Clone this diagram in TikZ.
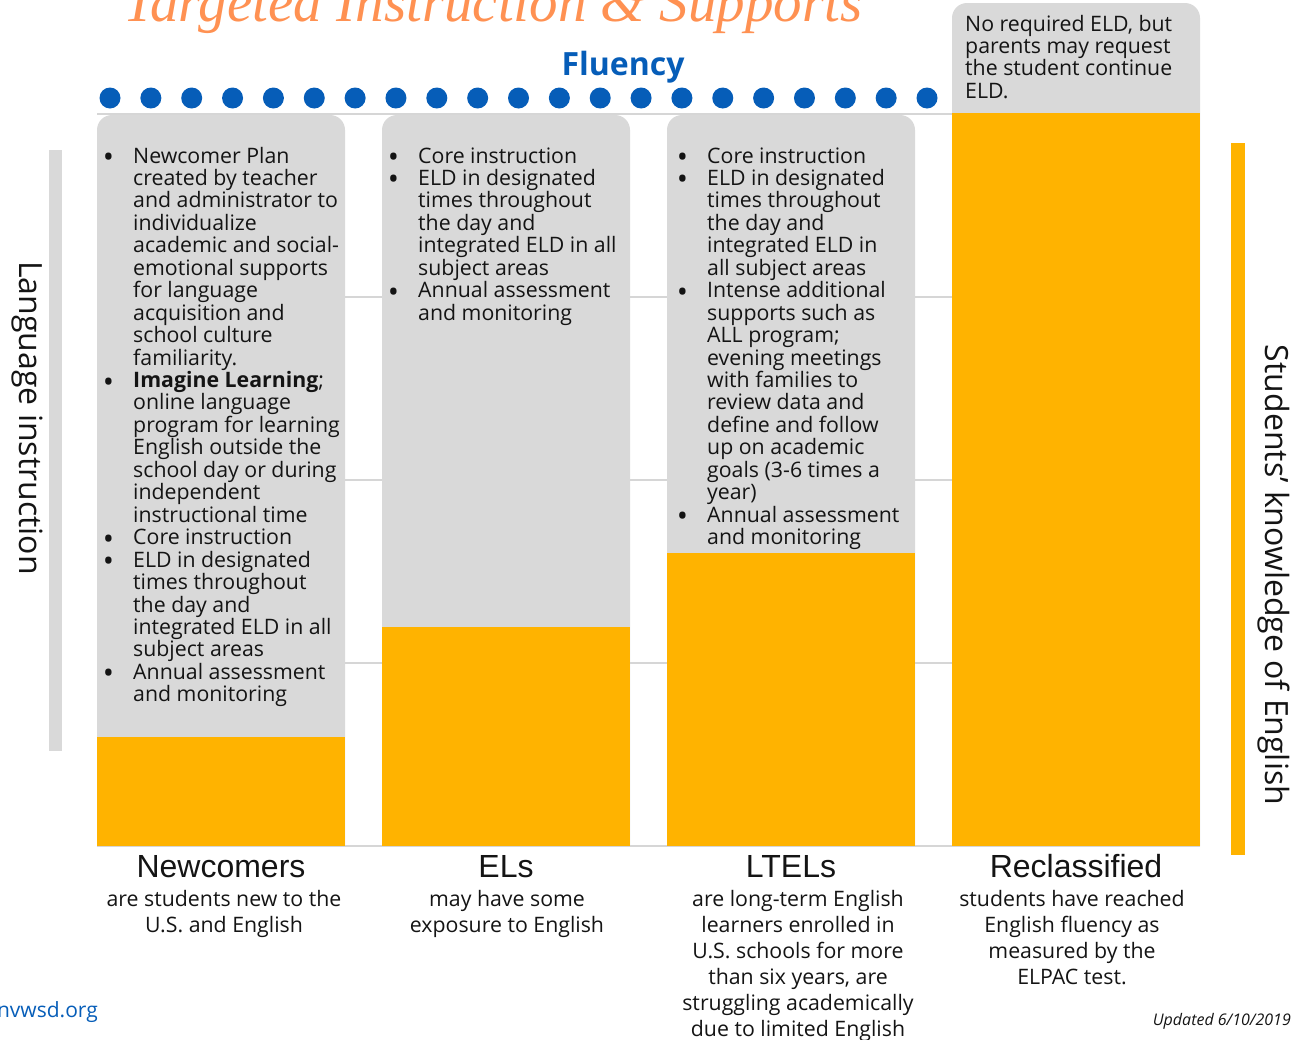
\documentclass[tikz,border=0pt]{standalone}
\usepackage{fontspec}
\setmainfont{Open Sans}
\newfontfamily\arialf{Liberation Sans}
\newfontfamily\titlef{Liberation Serif}
\definecolor{org}{HTML}{FFB300}
\definecolor{lgray}{HTML}{D9D9D9}
\definecolor{gline}{HTML}{D6D6D6}
\definecolor{dblue}{HTML}{065DB8}
\definecolor{ttl}{HTML}{FF9152}
\definecolor{txt}{HTML}{141414}
\newcommand\bul{\llap{\raisebox{-4.5pt}{\scalebox{1.4}{\textbullet}}\hspace{19pt}}}
\tikzset{
  grid/.style={draw=gline, line width=1.3pt},
  colbox/.style={fill=lgray},
  bar/.style={fill=org},
  ln/.style={anchor=base west, inner sep=0pt, text=txt, font=\fontsize{21.3}{22}\selectfont},
  head/.style={anchor=base, inner sep=0pt, text=txt, font=\arialf\fontsize{32}{32}\selectfont},
  desc/.style={anchor=base, inner sep=0pt, text=txt, font=\fontsize{21.3}{26}\selectfont},
  side/.style={inner sep=0pt, text=txt, font=\fontsize{32}{32}\selectfont, rotate=-90},
  dot/.style={circle, fill=dblue, inner sep=0pt, minimum size=21pt}
}
\begin{document}
\begin{tikzpicture}[x=1pt,y=-1pt]
\useasboundingbox (0,0) rectangle (1306,1039);
\clip (0,0) rectangle (1306,1039);
% title (cut off at top)
\node[anchor=base, inner sep=0pt, text=ttl, font=\titlef\itshape\fontsize{57}{57}\selectfont] (title) at (493,21) {Targeted Instruction \& Supports};
% gridlines
\foreach \y in {297,480,663,846} \draw[grid] (97,\y) -- (1200,\y);
\draw[grid] (97,114) -- (952,114);
% columns
\fill[colbox] (97,846) {[rounded corners=15pt] -- (97,115) -- (345,115)} -- (345,846) -- cycle;
\fill[colbox] (382,846) {[rounded corners=15pt] -- (382,115) -- (630,115)} -- (630,846) -- cycle;
\fill[colbox] (667,846) {[rounded corners=15pt] -- (667,115) -- (915,115)} -- (915,846) -- cycle;
\fill[colbox] (952,846) {[rounded corners=15pt] -- (952,3) -- (1200,3)} -- (1200,846) -- cycle;
\fill[bar] (97,737) rectangle (345,846);
\fill[bar] (382,627) rectangle (630,846);
\fill[bar] (667,553) rectangle (915,846);
\fill[bar] (952,113) rectangle (1200,846);
% side bars
\fill[lgray] (49,150) rectangle (62,751);
\fill[org] (1231,143) rectangle (1245,855);
\node[side] (lang) at (27,418) {Language instruction};
\node[side] (know) at (1274,575) {Students' knowledge of English};
% fluency
\node[anchor=base, inner sep=0pt, text=dblue, font=\bfseries\fontsize{32}{32}\selectfont] (flu) at (623,75) {Fluency};
\foreach \i in {0,...,20} \node[dot] (d\i) at (110+40.85*\i,98) {};
% column 1
\foreach \t [count=\i from 0] in {
 {\bul Newcomer Plan},{created by teacher},{and administrator to},{individualize},{academic and social-},{emotional supports},{for language},{acquisition and},{school culture},{familiarity.},
 {\bul\textbf{Imagine Learning};},{online language},{program for learning},{English outside the},{school day or during},{independent},{instructional time},
 {\bul Core instruction},
 {\bul ELD in designated},{times throughout},{the day and},{integrated ELD in all},{subject areas},
 {\bul Annual assessment},{and monitoring}}
 \node[ln] (a\i) at (133,163+22.45*\i) {\t};
% column 2
\foreach \t [count=\i from 0] in {
 {\bul Core instruction},
 {\bul ELD in designated},{times throughout},{the day and},{integrated ELD in all},{subject areas},
 {\bul Annual assessment},{and monitoring}}
 \node[ln] (b\i) at (418,163+22.45*\i) {\t};
% column 3
\foreach \t [count=\i from 0] in {
 {\bul Core instruction},
 {\bul ELD in designated},{times throughout},{the day and},{integrated ELD in},{all subject areas},
 {\bul Intense additional},{supports such as},{ALL program;},{evening meetings},{with families to},{review data and},{define and follow},{up on academic},{goals (3-6 times a},{year)},
 {\bul Annual assessment},{and monitoring}}
 \node[ln] (c\i) at (707,163+22.45*\i) {\t};
% column 4
\foreach \t [count=\i from 0] in {
 {No required ELD, but},{parents may request},{the student continue},{ELD.}}
 \node[ln] (e\i) at (965,31+22.45*\i) {\t};
% headings
\node[head] (h1) at (221,877) {Newcomers};
\node[head] (h2) at (506,877) {ELs};
\node[head] (h3) at (791,877) {LTELs};
\node[head] (h4) at (1076,877) {Reclassified};
\foreach \t [count=\i from 0] in {{are students new to the},{U.S. and English}}
 \node[desc] (p\i) at (224,906+26*\i) {\t};
\foreach \t [count=\i from 0] in {{may have some},{exposure to English}}
 \node[desc] (q\i) at (507,906+26*\i) {\t};
\foreach \t [count=\i from 0] in {{are long-term English},{learners enrolled in},{U.S. schools for more},{than six years, are},{struggling academically},{due to limited English}}
 \node[desc] (r\i) at (798,906+26*\i) {\t};
\foreach \t [count=\i from 0] in {{students have reached},{English fluency as},{measured by the},{ELPAC test.}}
 \node[desc] (s\i) at (1072,906+26*\i) {\t};
% footer
\node[anchor=base east, inner sep=0pt, text=dblue, font=\fontsize{21}{21}\selectfont] (web) at (98,1017) {nvwsd.org};
\node[anchor=base east, inner sep=0pt, text=txt, font=\itshape\fontsize{16}{16}\selectfont] (upd) at (1291,1025) {Updated 6/10/2019};
\end{tikzpicture}
\end{document}
